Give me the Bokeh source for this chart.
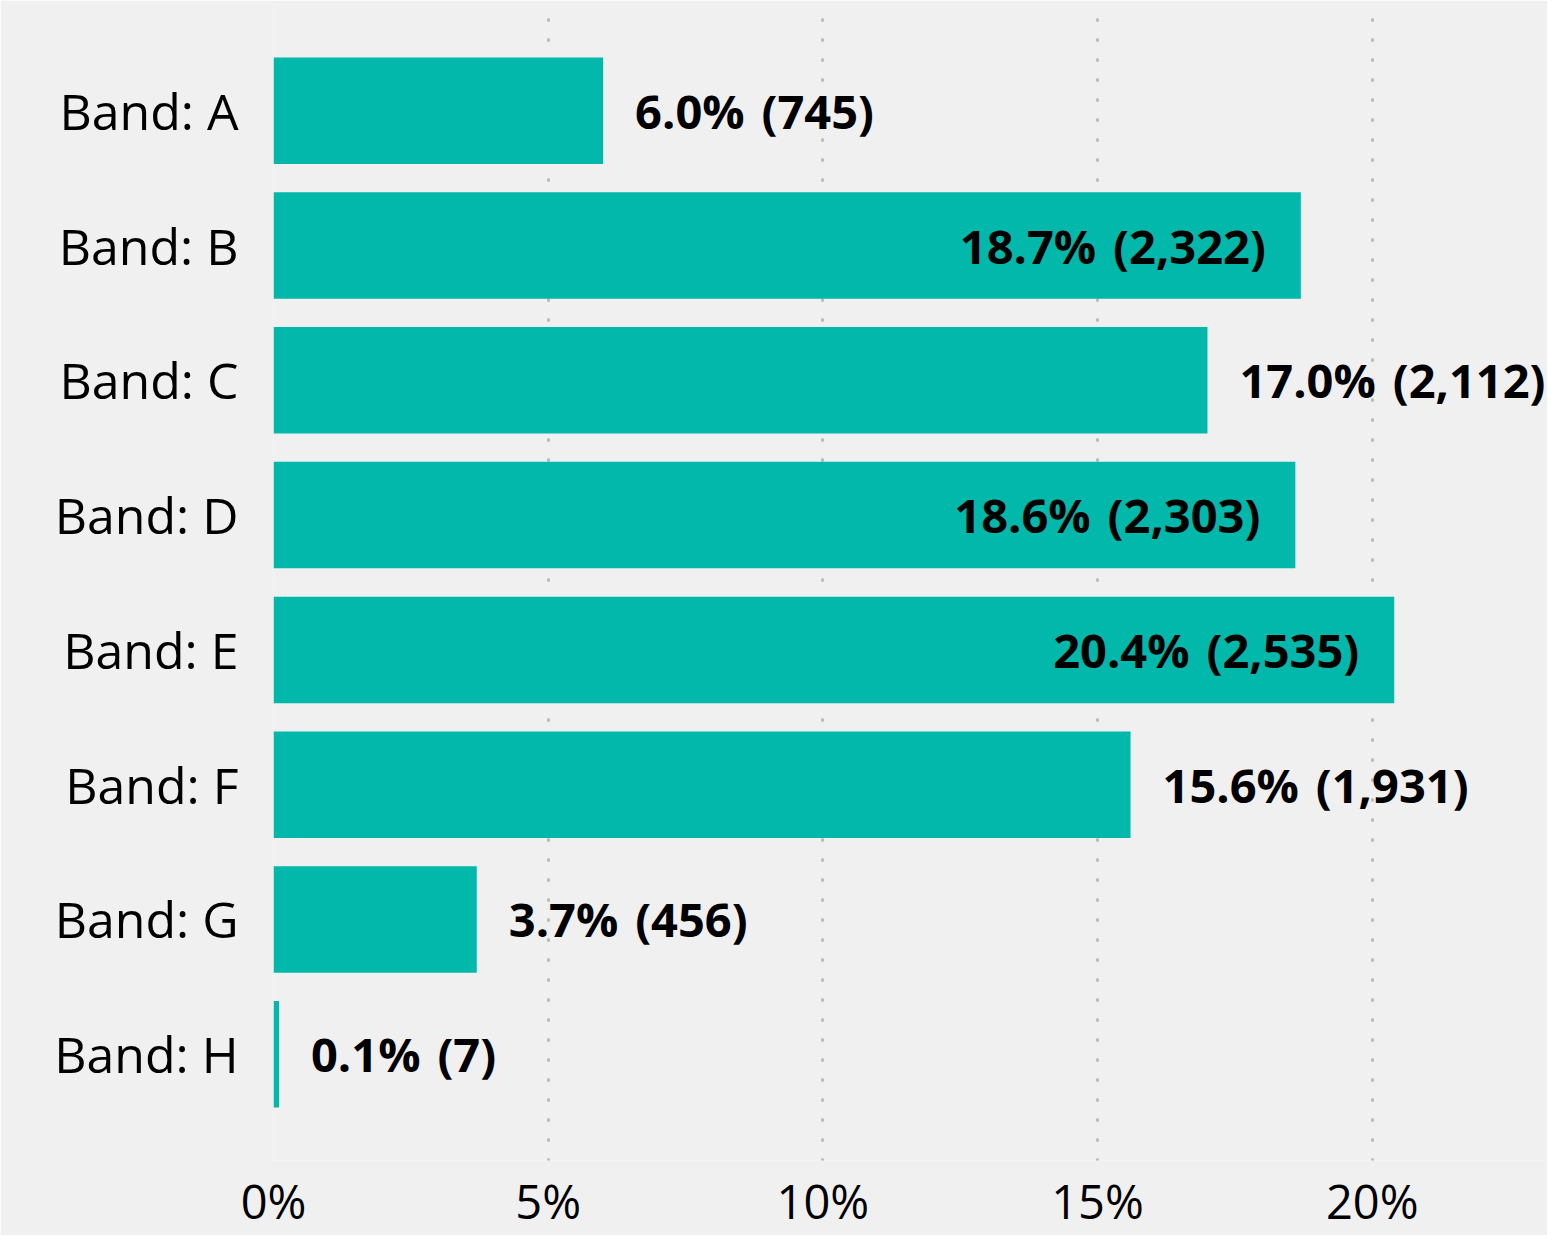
from bokeh.plotting import figure
from bokeh.models import ColumnDataSource, FactorRange, Range1d, FixedTicker, CustomJSTickFormatter
from bokeh.core.properties import value
from bokeh.embed import file_html
from bokeh.resources import INLINE

# ---- data ----
categories = ["Band: A", "Band: B", "Band: C", "Band: D", "Band: E", "Band: F", "Band: G", "Band: H"]
pct_values = [6.0, 18.7, 17.0, 18.6, 20.4, 15.6, 3.7, 0.1]
counts = [745, 2322, 2112, 2303, 2535, 1931, 456, 7]
x_ticks = [0, 5, 10, 15, 20]

FONT = "Open Sans"
BAR_COLOR = "#01B8AA"
BG = "#F0F0F0"

labels = [f"{p:.1f}% \u200a({c:,})" for p, c in zip(pct_values, counts)]
inside = [p > 18 for p in pct_values]

src_bars = ColumnDataSource(dict(cat=categories, pct=pct_values))
src_out = ColumnDataSource(dict(
    cat=[c for c, i in zip(categories, inside) if not i],
    pct=[p for p, i in zip(pct_values, inside) if not i],
    lab=[l for l, i in zip(labels, inside) if not i]))
src_in = ColumnDataSource(dict(
    cat=[c for c, i in zip(categories, inside) if i],
    pct=[p for p, i in zip(pct_values, inside) if i],
    lab=[l for l, i in zip(labels, inside) if i]))

p = figure(
    width=1547, height=1235,
    y_range=FactorRange(factors=list(reversed(categories)), range_padding=0.072),
    x_range=Range1d(0, 23.19),
    output_backend="svg", toolbar_location=None,
    min_border_left=273, min_border_right=0, min_border_top=4, min_border_bottom=0,
)
p.background_fill_color = BG
p.border_fill_color = BG
p.outline_line_color = None

p.hbar(y="cat", right="pct", left=0, height=0.79, source=src_bars,
       fill_color=BAR_COLOR, line_color=None)

p.text(x="pct", y="cat", text="lab", source=src_out, x_offset=32,
       text_align="left", text_baseline="middle",
       text_font=value(FONT), text_font_style="bold", text_font_size="47px",
       text_color="#000000")
p.text(x="pct", y="cat", text="lab", source=src_in, x_offset=-35,
       text_align="right", text_baseline="middle",
       text_font=value(FONT), text_font_style="bold", text_font_size="47px",
       text_color="#000000")

# grids
p.ygrid.grid_line_color = None
p.xgrid.grid_line_color = "#BBBBBB"
p.xgrid.grid_line_width = 3
p.xgrid.grid_line_dash = "1 19"
p.xgrid.grid_line_cap = "round"
p.xgrid.ticker = FixedTicker(ticks=x_ticks)

# x axis
p.xaxis.ticker = FixedTicker(ticks=x_ticks)
p.xaxis.formatter = CustomJSTickFormatter(code="return tick + '%';")
p.xaxis.axis_line_color = None
p.xaxis.major_tick_line_color = None
p.xaxis.minor_tick_line_color = None
p.xaxis.major_label_text_font = FONT
p.xaxis.major_label_text_font_size = "47px"
p.xaxis.major_label_text_color = "#000000"
p.xaxis.major_label_standoff = 2

# y axis
p.yaxis.axis_line_color = None
p.yaxis.major_tick_line_color = None
p.yaxis.minor_tick_line_color = None
p.yaxis.major_label_text_font = FONT
p.yaxis.major_label_text_font_size = "50px"
p.yaxis.major_label_text_color = "#000000"
p.yaxis.major_label_standoff = 29

open("out.html", "w").write(file_html(p, INLINE))
